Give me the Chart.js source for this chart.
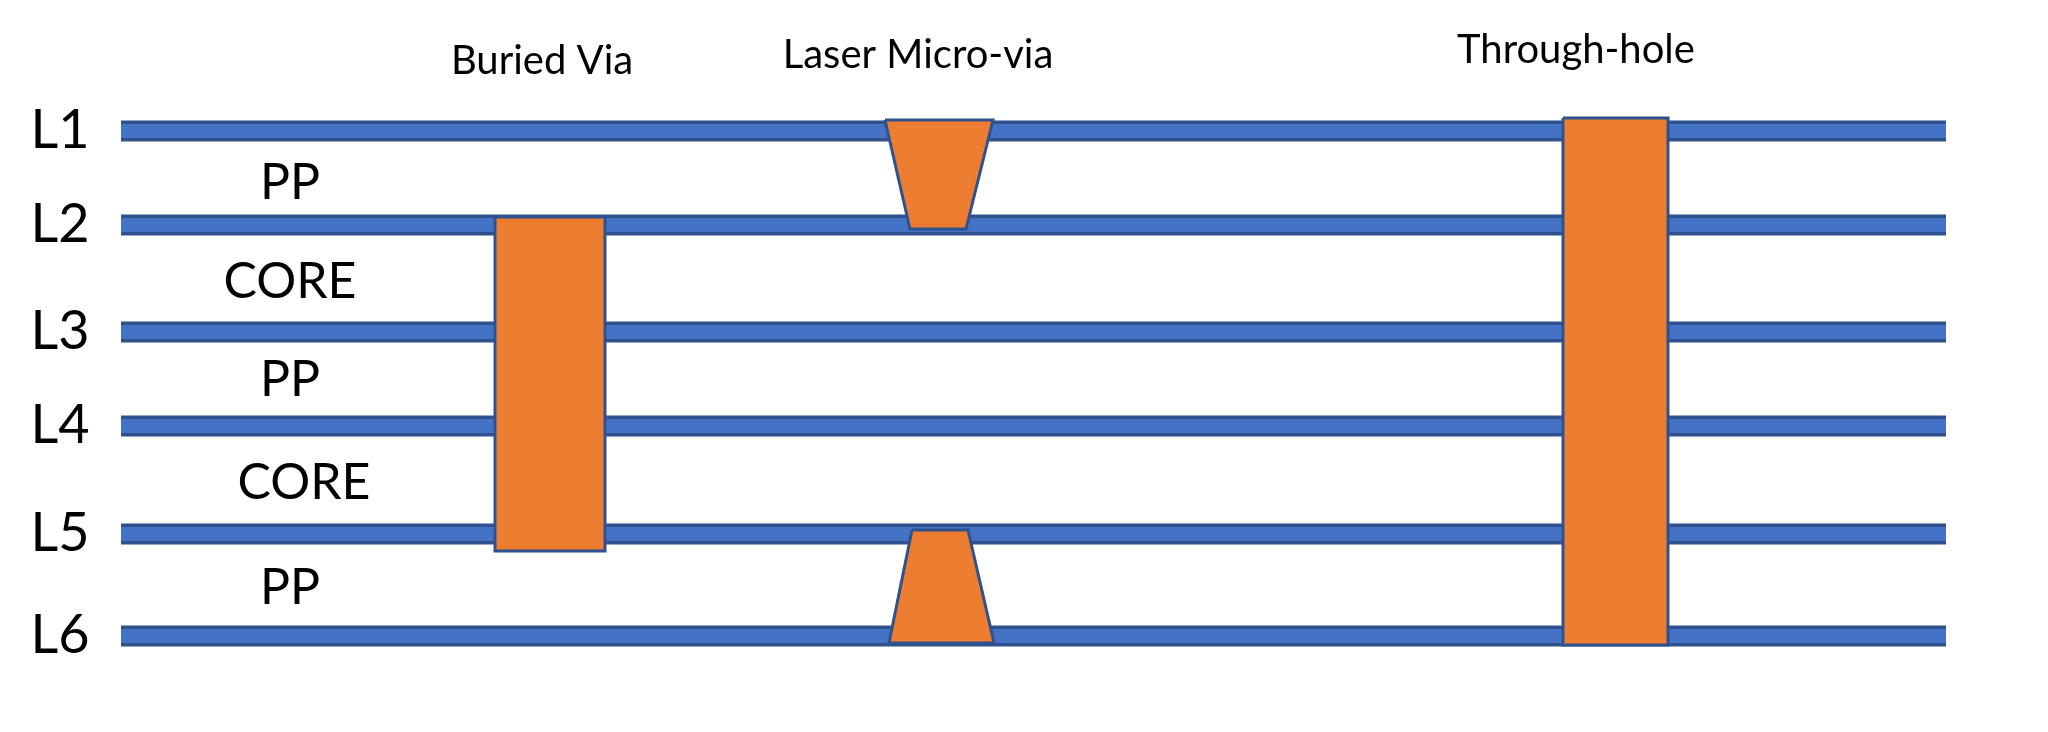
<!DOCTYPE html>
<html>
<head>
<meta charset="utf-8">
<script src="https://cdn.jsdelivr.net/npm/chart.js@4"></script>
<style>
  html, body { margin: 0; padding: 0; background: #fff; }
  #wrap { width: 2048px; height: 732px; }
</style>
</head>
<body>
<div id="wrap"><canvas id="c"></canvas></div>
<script>
// layer stack, positions in drawing units (x: 0..2048, y: 0..732 from top)
const layerNames = ['L1', 'L2', 'L3', 'L4', 'L5', 'L6'];
const layerY = [131, 225, 332, 426, 534, 636];
const layerX = [121, 1946];

const dielectricNames = ['PP', 'CORE', 'PP', 'CORE', 'PP'];
const dielectricX = [290, 290, 290, 304, 290];
const dielectricY = [183, 282, 380, 483, 588];

// via outlines (closed polygons)
const buriedVia = [[495, 217], [605, 217], [605, 551], [495, 551], [495, 217]];
const microViaTop = [[885, 120], [993, 120], [966, 229], [910, 229], [885, 120]];
const microViaBottom = [[912, 530], [968, 530], [994, 643], [889, 643], [912, 530]];
const throughHole = [[1563, 118], [1668, 118], [1668, 645], [1563, 645], [1563, 118]];

const viaTitles = ['Buried Via', 'Laser Micro-via', 'Through-hole'];
const viaTitleX = [542, 918, 1576];
const viaTitleY = [61, 55, 50];

const pts = arr => arr.map(p => ({ x: p[0], y: p[1] }));

const datasets = [];
layerY.forEach(y => {
  datasets.push({ data: [{ x: layerX[0], y }, { x: layerX[1], y }], borderColor: '#2F528F', borderWidth: 21, order: 3, pointRadius: 0, fill: false, borderCapStyle: 'butt' });
  datasets.push({ data: [{ x: layerX[0], y }, { x: layerX[1], y }], borderColor: '#4472C4', borderWidth: 14, order: 2, pointRadius: 0, fill: false, borderCapStyle: 'butt' });
});
[buriedVia, microViaTop, microViaBottom, throughHole].forEach(v => {
  datasets.push({ data: pts(v), borderColor: '#2F528F', borderWidth: 3, backgroundColor: '#ED7D31', fill: 'shape', order: 0, pointRadius: 0, tension: 0 });
});

const textPlugin = {
  id: 'texts',
  afterDatasetsDraw(chart) {
    const c = chart.ctx, sx = chart.scales.x, sy = chart.scales.y;
    c.save();
    c.fillStyle = '#000';
    c.textAlign = 'center';
    c.textBaseline = 'middle';
    c.font = '54px Lato';
    layerNames.forEach((n, i) => c.fillText(n, sx.getPixelForValue(60), sy.getPixelForValue(layerY[i])));
    c.font = '50px Lato';
    dielectricNames.forEach((n, i) => c.fillText(n, sx.getPixelForValue(dielectricX[i]), sy.getPixelForValue(dielectricY[i])));
    c.font = '40px Lato';
    viaTitles.forEach((n, i) => c.fillText(n, sx.getPixelForValue(viaTitleX[i]), sy.getPixelForValue(viaTitleY[i])));
    c.restore();
  }
};

new Chart(document.getElementById('c'), {
  type: 'line',
  data: { datasets },
  options: {
    responsive: true,
    maintainAspectRatio: false,
    animation: false,
    layout: { padding: 0 },
    plugins: { legend: { display: false }, tooltip: { enabled: false } },
    scales: {
      x: { type: 'linear', min: 0, max: 2048, display: false },
      y: { type: 'linear', min: 0, max: 732, reverse: true, display: false }
    }
  },
  plugins: [textPlugin]
});
</script>
</body>
</html>
